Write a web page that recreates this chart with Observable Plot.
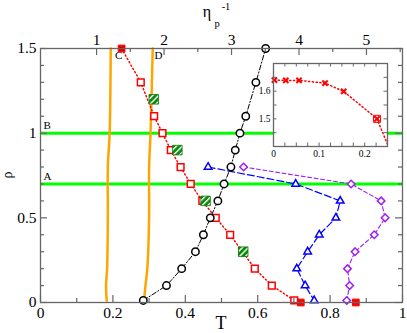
<!DOCTYPE html>
<html><head><meta charset="utf-8">
<script src="https://cdn.jsdelivr.net/npm/d3@7"></script>
<script src="https://cdn.jsdelivr.net/npm/@observablehq/plot@0.6"></script>
<style>
body{margin:0;background:#fff;}
#wrap{position:relative;width:407px;height:333px;overflow:hidden;}
#wrap svg{position:absolute;overflow:visible;}
#wrap svg text{font-family:"Liberation Serif",serif;}
</style></head><body><div id="wrap"></div>
<script>
// ---------- data ----------
// red open squares (dotted line)
const redT   = [0.277, 0.314, 0.337, 0.360, 0.387, 0.415, 0.447, 0.484, 0.524, 0.558, 0.592, 0.639, 0.701];
const redRho = [1.30, 1.10, 1.00, 0.90, 0.80, 0.70, 0.60, 0.50, 0.40, 0.30, 0.20, 0.10, 0.012];
// red filled squares
const redFillT   = [0.224, 0.719, 0.871];
const redFillRho = [1.50, 0.00, 0.00];
// black circles (dash-dot)
const blackT   = [0.284, 0.348, 0.390, 0.428, 0.450, 0.469, 0.490, 0.507, 0.526, 0.538, 0.551, 0.567, 0.595, 0.622];
const blackRho = [0.012, 0.10, 0.20, 0.30, 0.40, 0.50, 0.60, 0.70, 0.80, 0.90, 1.00, 1.10, 1.30, 1.50];
// blue triangles (long dash)
const blueT   = [0.463, 0.705, 0.828, 0.816, 0.770, 0.738, 0.708, 0.731, 0.756];
const blueRho = [0.80, 0.70, 0.60, 0.50, 0.40, 0.30, 0.20, 0.10, 0.012];
// purple diamonds (dash)
const purpleT   = [0.561, 0.858, 0.941, 0.952, 0.922, 0.869, 0.848, 0.854, 0.846];
const purpleRho = [0.80, 0.70, 0.60, 0.50, 0.40, 0.30, 0.20, 0.10, 0.012];
// green hatched squares
const greenT   = [0.313, 0.378, 0.456, 0.560];
const greenRho = [1.20, 0.90, 0.60, 0.30];
// orange curves
const orangeRho    = [0.01, 0.10, 0.20, 0.50, 0.80, 1.00, 1.50];
const orangeLeftT  = [0.183, 0.181, 0.184, 0.186, 0.186, 0.191, 0.194];
const orangeRightT = [0.286, 0.290, 0.295, 0.300, 0.300, 0.304, 0.310];
// green horizontal lines and their labels
const levelRho    = [0.70, 1.00];
const levelLabels = ["A", "B"];
const levelLabelT = [0.008, 0.008];
const levelLabelRho = [0.744, 1.045];
// curve labels
const curveLabels = ["C", "D"];
const curveLabelT = [0.216, 0.326];
const curveLabelRho = [1.46, 1.46];
// inset data
const insetT   = [0.002, 0.027, 0.056, 0.113, 0.154, 0.227];
const insetRho = [1.640, 1.639, 1.639, 1.629, 1.599, 1.500];
const insetLineT   = [...insetT, 0.277];
const insetLineRho = [...insetRho, 1.30];
// ticks
const xMajor = [0, 0.2, 0.4, 0.6, 0.8, 1];
const xMinor = [0.1, 0.3, 0.5, 0.7, 0.9];
const yMajor = [0, 0.5, 1, 1.5];
const yMinor = [0.1, 0.2, 0.3, 0.4, 0.6, 0.7, 0.8, 0.9, 1.1, 1.2, 1.3, 1.4];
const etaMajor = [1, 2, 3, 4, 5];
const etaMinor = [1.5, 2.5, 3.5, 4.5, 5.5];
const insetXMajor = [0, 0.1, 0.2];
const insetXMinor = [0.025, 0.05, 0.075, 0.1, 0.125, 0.15, 0.175, 0.2, 0.225];
const insetYMajor = [1.5, 1.6];
const insetYMinor = [1.45, 1.5, 1.55, 1.6, 1.65];
// top axis conversion (eta_p^-1 -> T)
const tAtEta1 = 0.1549, tPerEta = 0.1864;
const tOfEta = e => tAtEta1 + (e - 1) * tPerEta;
const etaOfT = t => (t - tAtEta1) / tPerEta + 1;

// ---------- layout ----------
const W = 407, H = 333, mL = 40, mR = 5, mT = 48, mB = 31;
const fw = W - mL - mR, fh = H - mT - mB;
const axisCol = "#666";
const serif = "Liberation Serif";
const pts = (xs, ys) => xs.map((x, i) => ({x, y: ys[i]}));

const main = Plot.plot({
  width: W, height: H,
  marginLeft: mL, marginRight: mR, marginTop: mT, marginBottom: mB,
  x: {domain: [0, 1]},
  y: {domain: [0, 1.5]},
  style: {fontFamily: serif, fontSize: "15.5px", background: "transparent", color: "#000"},
  marks: [
    Plot.ruleY(levelRho, {stroke: "#00ff00", strokeWidth: 3}),
    Plot.text(pts(levelLabelT, levelLabelRho), {x: "x", y: "y", text: (d, i) => levelLabels[i], textAnchor: "start", fontSize: 11, fontFamily: serif}),
    Plot.line(pts(orangeLeftT, orangeRho), {x: "x", y: "y", stroke: "#ffa500", strokeWidth: 2.5, curve: "catmull-rom"}),
    Plot.line(pts(orangeRightT, orangeRho), {x: "x", y: "y", stroke: "#ffa500", strokeWidth: 2.5, curve: "catmull-rom"}),
    Plot.text(pts(curveLabelT, curveLabelRho), {x: "x", y: "y", text: (d, i) => curveLabels[i], fontSize: 11, fontFamily: serif}),
    // series lines
    Plot.line(pts([redFillT[0], ...redT], [redFillRho[0], ...redRho]), {x: "x", y: "y", stroke: "red", strokeWidth: 1.5, strokeDasharray: "1.2,2.6"}),
    Plot.line(pts(blackT, blackRho), {x: "x", y: "y", stroke: "#000", strokeWidth: 1, strokeDasharray: "5,2,1.2,2"}),
    Plot.line(pts(blueT, blueRho), {x: "x", y: "y", stroke: "#0000ff", strokeWidth: 1.2, strokeDasharray: "7,3"}),
    Plot.line(pts(purpleT, purpleRho), {x: "x", y: "y", stroke: "#a020f0", strokeWidth: 1.1, strokeDasharray: "4,2.5"}),
    // markers
    Plot.dot(pts(redT, redRho), {x: "x", y: "y", symbol: "square", r: 3.8, stroke: "red", fill: "white", strokeWidth: 1.5}),
    Plot.dot(pts(redFillT, redFillRho), {x: "x", y: "y", symbol: "square", r: 3.8, stroke: "red", fill: "red", strokeWidth: 1}),
    Plot.dot(pts(redFillT.slice(0, 1), redFillRho.slice(0, 1)), {x: "x", y: "y", symbol: "times", r: 2.2, stroke: "#900", strokeWidth: 1}),
    Plot.dot(pts(blackT, blackRho), {x: "x", y: "y", symbol: "circle", r: 3.7, stroke: "#000", fill: "white", strokeWidth: 1.5}),
    Plot.dot(pts(blueT, blueRho), {x: "x", y: "y", symbol: "triangle", r: 2.8, stroke: "#0000ff", fill: "white", strokeWidth: 1.5}),
    Plot.dot(pts(purpleT, purpleRho), {x: "x", y: "y", symbol: "diamond2", r: 3.4, stroke: "#a020f0", fill: "white", strokeWidth: 1.5}),
    Plot.dot(pts(greenT, greenRho), {x: "x", y: "y", symbol: "square", r: 5.4, stroke: "#0a7a0a", fill: "url(#hatch)", strokeWidth: 0.8}),
    // ticks (inward)
    Plot.tickX(xMajor, {x: d => d, insetTop: fh - 7, stroke: axisCol, strokeWidth: 1.2}),
    Plot.tickX(xMinor, {x: d => d, insetTop: fh - 4, stroke: axisCol, strokeWidth: 1.2}),
    Plot.tickX(etaMajor.map(tOfEta), {x: d => d, insetBottom: fh - 7, stroke: axisCol, strokeWidth: 1.2}),
    Plot.tickX(etaMinor.map(tOfEta), {x: d => d, insetBottom: fh - 4, stroke: axisCol, strokeWidth: 1.2}),
    Plot.tickY(yMajor, {y: d => d, insetRight: fw - 7, stroke: axisCol, strokeWidth: 1.2}),
    Plot.tickY(yMinor, {y: d => d, insetRight: fw - 4, stroke: axisCol, strokeWidth: 1.2}),
    Plot.tickY(yMajor, {y: d => d, insetLeft: fw - 7, stroke: axisCol, strokeWidth: 1.2}),
    Plot.tickY(yMinor, {y: d => d, insetLeft: fw - 4, stroke: axisCol, strokeWidth: 1.2}),
    // tick labels
    Plot.axisX(xMajor, {anchor: "bottom", tickSize: 0, tickPadding: 4, tickFormat: d => String(d), label: null, fontFamily: serif, fontSize: 15.5}),
    Plot.axisX(etaMajor.map(tOfEta), {anchor: "top", tickSize: 0, tickPadding: 4, tickFormat: t => String(Math.round(etaOfT(t))), label: null, fontFamily: serif, fontSize: 15.5}),
    Plot.axisY(yMajor, {anchor: "left", tickSize: 0, tickPadding: 4, tickFormat: d => String(d), label: null, fontFamily: serif, fontSize: 15.5}),
    Plot.frame({stroke: axisCol, strokeWidth: 1.3})
  ]
});

// hatch pattern for green squares
const defs = d3.select(main).insert("defs", ":first-child");
const pat = defs.append("pattern").attr("id", "hatch").attr("patternUnits", "userSpaceOnUse")
  .attr("width", 4.2).attr("height", 4.2).attr("patternTransform", "rotate(45)");
pat.append("rect").attr("width", 4.2).attr("height", 4.2).attr("fill", "#0a8a0a");
pat.append("rect").attr("width", 1.4).attr("height", 4.2).attr("fill", "white");

// axis titles
const sm = d3.select(main);
sm.append("text").attr("x", mL + fw / 2).attr("y", 329).attr("text-anchor", "middle")
  .attr("font-family", serif).attr("font-size", 18).text("T");
sm.append("text").attr("transform", `translate(12,${mT + fh / 2}) rotate(-90)`).attr("text-anchor", "middle")
  .attr("font-family", serif).attr("font-size", 14).text("ρ");
const eta = sm.append("g").attr("font-family", serif);
eta.append("text").attr("x", 207).attr("y", 17).attr("font-size", 16).text("η");
eta.append("text").attr("x", 217).attr("y", 27).attr("font-size", 10.5).text("p");
eta.append("text").attr("x", 226).attr("y", 9.5).attr("font-size", 10.5).text("-1");

main.style.left = "0px"; main.style.top = "0px";
document.getElementById("wrap").appendChild(main);

// ---------- inset ----------
const iW = 136, iH = 104, iL = 19, iR = 3, iT = 7, iB = 14;
const ifw = iW - iL - iR, ifh = iH - iT - iB;
const inset = Plot.plot({
  width: iW, height: iH,
  marginLeft: iL, marginRight: iR, marginTop: iT, marginBottom: iB,
  x: {domain: [0, 0.25]},
  y: {domain: [1.4, 1.7]},
  style: {fontFamily: serif, fontSize: "9.5px", background: "transparent", color: "#000"},
  marks: [
    Plot.frame({fill: "white", stroke: "none"}),
    Plot.line(pts(insetLineT, insetLineRho), {x: "x", y: "y", stroke: "red", strokeWidth: 1.5, strokeDasharray: "1.2,2.6", clip: true}),
    Plot.dot(pts(insetT, insetRho), {x: "x", y: "y", symbol: "times", r: 2.5, stroke: "red", strokeWidth: 2}),
    Plot.dot(pts(insetT.slice(-1), insetRho.slice(-1)), {x: "x", y: "y", symbol: "square", r: 4, stroke: "red", fill: "none", strokeWidth: 1}),
    Plot.tickX(insetXMinor, {x: d => d, insetTop: ifh - 3.5, stroke: axisCol}),
    Plot.tickX(insetXMinor, {x: d => d, insetBottom: ifh - 3.5, stroke: axisCol}),
    Plot.tickY(insetYMinor, {y: d => d, insetRight: ifw - 3.5, stroke: axisCol}),
    Plot.tickY(insetYMinor, {y: d => d, insetLeft: ifw - 3.5, stroke: axisCol}),
    Plot.axisX(insetXMajor, {anchor: "bottom", tickSize: 0, tickPadding: 4, tickFormat: d => String(d), label: null, fontFamily: serif, fontSize: 9.5}),
    Plot.axisY(insetYMajor, {anchor: "left", tickSize: 0, tickPadding: 3, tickFormat: d => d.toFixed(1), label: null, fontFamily: serif, fontSize: 9.5}),
    Plot.frame({stroke: axisCol, strokeWidth: 1.3})
  ]
});
inset.style.left = "254px"; inset.style.top = "56px";
document.getElementById("wrap").appendChild(inset);
</script></body></html>
